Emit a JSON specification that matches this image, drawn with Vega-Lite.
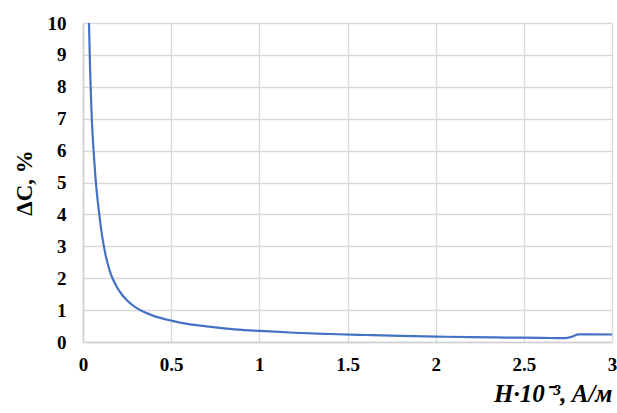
{
  "$schema": "https://vega.github.io/schema/vega-lite/v6.json",
  "autosize": {"type": "none"},
  "width": 529,
  "height": 319,
  "padding": {"left": 83, "top": 23, "right": 5, "bottom": 71},
  "background": "white",
  "config": {
    "view": {"stroke": null},
    "font": "Liberation Serif",
    "axis": {
      "grid": true,
      "gridColor": "#d9d9d9",
      "gridWidth": 1.3,
      "domainColor": "#d0d0d0",
      "domainWidth": 1.5,
      "ticks": false,
      "labelFont": "Liberation Serif",
      "labelFontSize": 19,
      "labelFontWeight": "bold",
      "labelColor": "#000000",
      "titleFont": "Liberation Serif",
      "titleFontWeight": "bold",
      "titleColor": "#000000"
    }
  },
  "data": {
    "values": [
      {"h": 0.034, "d": 10},
      {"h": 0.04, "d": 8.6},
      {"h": 0.05, "d": 7.0},
      {"h": 0.06, "d": 6.0},
      {"h": 0.07, "d": 5.2},
      {"h": 0.08, "d": 4.6},
      {"h": 0.09, "d": 4.1},
      {"h": 0.1, "d": 3.65},
      {"h": 0.12, "d": 2.95},
      {"h": 0.14, "d": 2.45},
      {"h": 0.16, "d": 2.1},
      {"h": 0.18, "d": 1.85},
      {"h": 0.2, "d": 1.65},
      {"h": 0.25, "d": 1.3},
      {"h": 0.3, "d": 1.08},
      {"h": 0.35, "d": 0.93},
      {"h": 0.4, "d": 0.82},
      {"h": 0.5, "d": 0.67},
      {"h": 0.6, "d": 0.56},
      {"h": 0.7, "d": 0.49},
      {"h": 0.8, "d": 0.43},
      {"h": 0.9, "d": 0.38},
      {"h": 1.0, "d": 0.35},
      {"h": 1.2, "d": 0.29},
      {"h": 1.4, "d": 0.25},
      {"h": 1.6, "d": 0.22},
      {"h": 1.8, "d": 0.19},
      {"h": 2.0, "d": 0.17},
      {"h": 2.2, "d": 0.155},
      {"h": 2.4, "d": 0.14},
      {"h": 2.6, "d": 0.13},
      {"h": 2.73, "d": 0.12},
      {"h": 2.77, "d": 0.16},
      {"h": 2.81, "d": 0.24},
      {"h": 2.9, "d": 0.24},
      {"h": 3.0, "d": 0.235}
    ]
  },
  "mark": {"type": "line", "color": "#4472C4", "strokeWidth": 2.2, "interpolate": "monotone", "clip": true},
  "encoding": {
    "x": {
      "field": "h",
      "type": "quantitative",
      "scale": {"domain": [0, 3], "nice": false, "zero": true},
      "axis": {
        "values": [0, 0.5, 1, 1.5, 2, 2.5, 3],
        "format": "~g",
        "labelPadding": 13,
        "labelFlush": false,
        "title": "H·10⁻³, A/м",
        "titleFontSize": 25,
        "titleFontStyle": "italic",
        "titleAnchor": "end",
        "titlePadding": 7
      }
    },
    "y": {
      "field": "d",
      "type": "quantitative",
      "scale": {"domain": [0, 10], "nice": false},
      "axis": {
        "values": [0, 1, 2, 3, 4, 5, 6, 7, 8, 9, 10],
        "labelPadding": 17,
        "labelFlush": false,
        "title": "ΔC, %",
        "titleFontSize": 23,
        "titlePadding": 11
      }
    }
  }
}
